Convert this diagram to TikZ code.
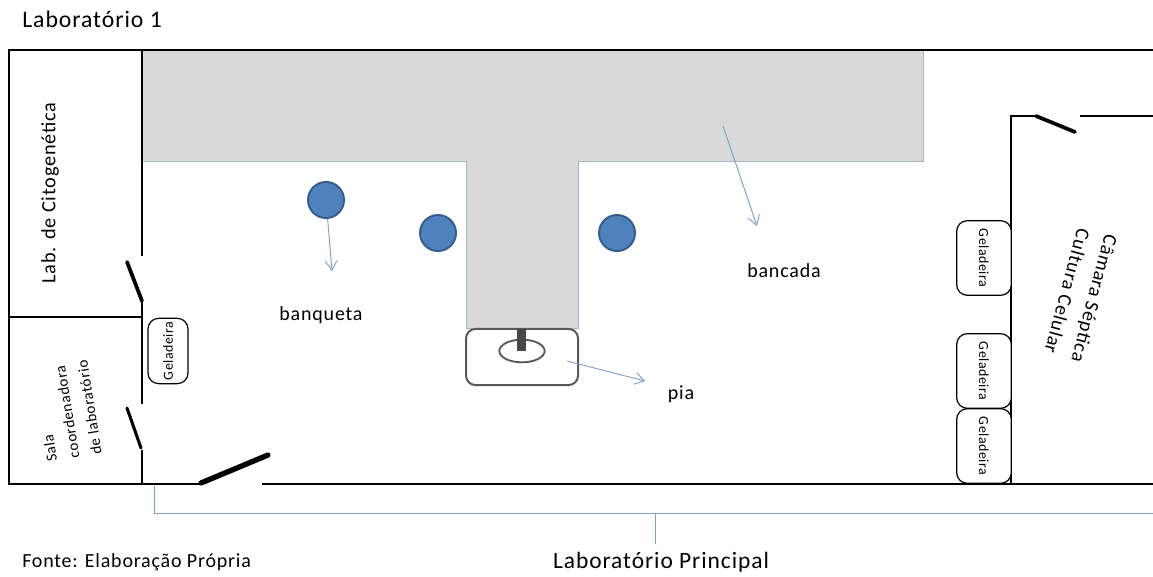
\documentclass[tikz,border=0pt]{standalone}
\usepackage{fontspec}
\setmainfont{Carlito}
\newfontfamily\widefont[LetterSpace=4]{Carlito}
\usetikzlibrary{arrows.meta,shapes.geometric}
\definecolor{bench}{HTML}{D9D9D9}
\definecolor{stool}{HTML}{4F81BD}
\definecolor{stooledge}{HTML}{385D8A}
\definecolor{leader}{HTML}{7F9FC6}
\definecolor{benchedge}{HTML}{A9B4C2}
\definecolor{sinkgrey}{HTML}{595959}
\tikzset{
  x=0.75pt,y=-0.75pt,
  wall/.style={draw=black,line width=1.05pt},
  outer/.style={draw=black,line width=1.7pt},
  door/.style={draw=black,line width=2.8pt,line cap=round},
  stoolnode/.style={circle,fill=stool,draw=stooledge,line width=1.5pt,minimum size=27pt,inner sep=0pt},
  fridge/.style={draw=black,line width=0.9pt,rounded corners=8pt,fill=white,inner sep=0pt},
  label/.style={inner sep=0pt,font=\widefont\fontsize{15}{18}\selectfont},
  small/.style={inner sep=0pt,font=\widefont\fontsize{10.4}{12}\selectfont},
  leaderarrow/.style={draw=leader,line width=0.7pt,-{Straight Barb[length=7pt,width=9pt]}},
  leaderline/.style={draw=leader,line width=0.7pt},
}
\begin{document}
\begin{tikzpicture}
\useasboundingbox (0,0) rectangle (1153,577);
% bench
\fill[bench,draw=benchedge,line width=0.5pt] (142,50) -- (923,50) -- (923,161) -- (578,161) -- (578,328) -- (466,328) -- (466,161) -- (142,161) -- cycle;
% outer walls
\draw[outer] (1153,50) -- (9,50) -- (9,484) -- (200,484);
\draw[outer] (262,484) -- (1153,484);
% inner walls
\draw[wall] (142,50) -- (142,256);
\draw[wall] (142,302) -- (142,404);
\draw[wall] (142,450) -- (142,484);
\draw[wall] (9,317) -- (142,317);
\draw[wall] (1011,484) -- (1011,116) -- (1036,116);
\draw[wall] (1080,116) -- (1153,116);
% doors
\draw[door] (127,262) -- (142,301);
\draw[door,line width=2.3pt] (127,408) -- (141,448);
\draw[door,line width=4pt] (201,483) -- (268,455);
\draw[door] (1036,116) -- (1075,132);
% stools
\node[stoolnode] (s1) at (326,200) {};
\node[stoolnode] (s2) at (438,233) {};
\node[stoolnode] (s3) at (617,233) {};
% sink
\node[draw=sinkgrey,line width=1.5pt,rounded corners=7pt,minimum width=84pt,minimum height=42pt,inner sep=0pt] (sink) at (522,357) {};
\node[ellipse,draw=sinkgrey,line width=1.4pt,minimum width=34pt,minimum height=17pt,inner sep=0pt] (basin) at (522,351) {};
\fill[sinkgrey!80!black] (517,329) rectangle (526,351);
% fridges
\node[fridge,minimum width=30pt,minimum height=49pt] (g1) at (168,351) {};
\node[small,rotate=90] at (g1) {Geladeira};
\node[fridge,minimum width=41pt,minimum height=56pt] (g2) at (984,258) {};
\node[small,rotate=-90] at (g2) {Geladeira};
\node[fridge,minimum width=41pt,minimum height=56pt] (g3) at (984,371) {};
\node[small,rotate=-90] at (g3) {Geladeira};
\node[fridge,minimum width=41pt,minimum height=56pt] (g4) at (984,446) {};
\node[small,rotate=-90] at (g4) {Geladeira};
% labels
\node[label,anchor=west,font=\widefont\fontsize{17.8}{20}\selectfont] (title) at (22,19) {Laboratório 1};
\node[label,rotate=90,font=\widefont\fontsize{15.2}{18}\selectfont] (citogen) at (50,193) {Lab. de Citogenética};
\node[small,rotate=99,align=left,font=\widefont\fontsize{11.4}{17}\selectfont] (sala) at (67,411) {Sala\\coordenadora\\de laboratório};
\node[label,rotate=-105,align=center,font=\widefont\fontsize{14.7}{21}\selectfont] (camara) at (1081,295) {Câmara Séptica\\Cultura Celular};
\node[label] (banqueta) at (321,315) {banqueta};
\node[label] (bancada) at (784,271) {bancada};
\node[label] (pia) at (681,394) {pia};
\node[label,anchor=west] (fonte) at (22,562) {Fonte: Elaboração Própria};
\node[label,font=\widefont\fontsize{17.6}{21}\selectfont] (principal) at (661,562) {Laboratório Principal};
% leaders
\coordinate (a1) at (332,271);
\coordinate (b0) at (723,126);
\coordinate (b1) at (757,226);
\coordinate (p0) at (567,361);
\coordinate (p1) at (645,381);
\draw[leaderarrow] (s1) -- (a1);
\draw[leaderarrow] (b0) -- (b1);
\draw[leaderarrow] (p0) -- (p1);
\coordinate (br0) at (154,486);
\coordinate (br1) at (154,513);
\coordinate (br2) at (1153,513);
\coordinate (br3) at (655,513);
\coordinate (br4) at (655,544);
\draw[leaderline] (br0) -- (br1) -- (br2);
\draw[leaderline] (br3) -- (br4);
\end{tikzpicture}
\end{document}
